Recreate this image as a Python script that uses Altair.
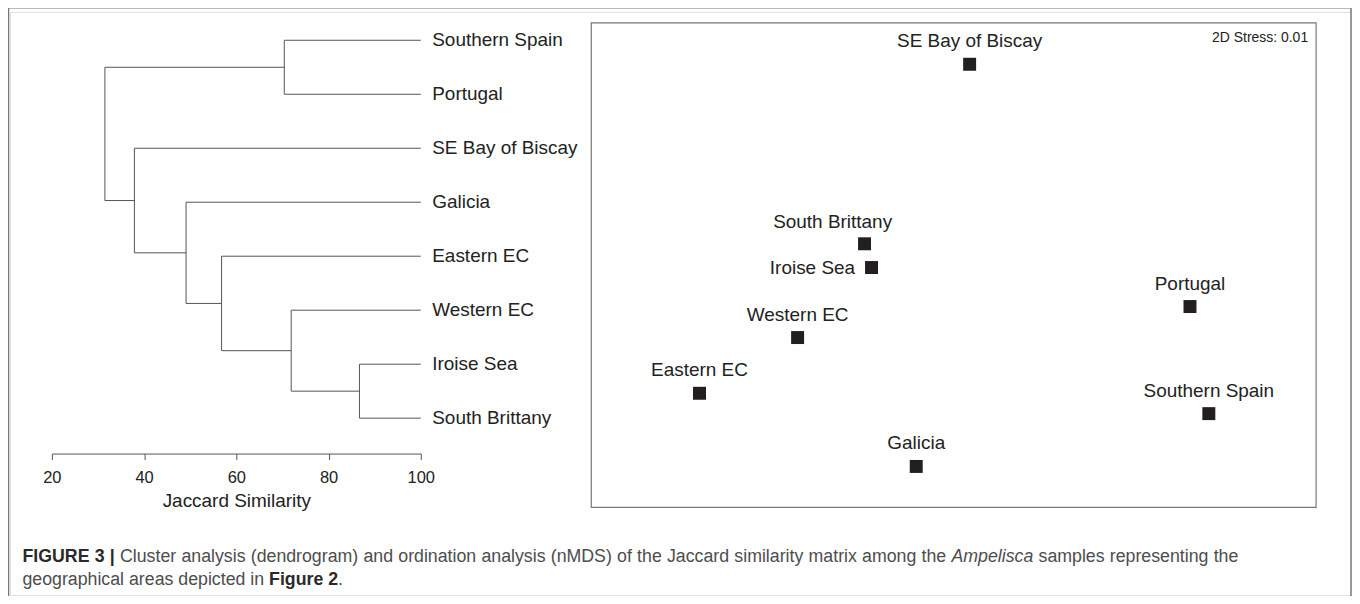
import altair as alt
import pandas as pd

# ---------------- data ----------------
leaves = ["Southern Spain", "Portugal", "SE Bay of Biscay", "Galicia",
          "Eastern EC", "Western EC", "Iroise Sea", "South Brittany"]
# merges (children may be leaves or earlier merges "m<i>") and similarity level
merge_left = ["Iroise Sea", "Southern Spain", "Western EC", "Eastern EC",
              "Galicia", "SE Bay of Biscay", "m1"]
merge_right = ["South Brittany", "Portugal", "m0", "m2", "m3", "m4", "m5"]
merge_sim = [86.7, 70.4, 71.9, 56.8, 49.1, 37.9, 31.5]
axis_ticks = [20, 40, 60, 80, 100]

sites = ["SE Bay of Biscay", "South Brittany", "Iroise Sea", "Portugal",
         "Western EC", "Eastern EC", "Southern Spain", "Galicia"]
mds1 = [0.066, -0.369, -0.340, 0.978, -0.646, -1.052, 1.056, -0.155]
mds2 = [0.829, 0.088, -0.010, -0.171, -0.299, -0.529, -0.613, -0.831]
stress_text = "2D Stress: 0.01"

cap1 = [("FIGURE 3 |", "bold", "normal"),
        ("Cluster analysis (dendrogram) and ordination analysis (nMDS) of the Jaccard similarity matrix among the", "normal", "normal"),
        ("Ampelisca", "normal", "italic"),
        ("samples representing the", "normal", "normal")]
cap2 = [("geographical areas depicted in", "normal", "normal"),
        ("Figure 2", "bold", "normal"),
        (".", "normal", "normal")]

# ---------------- layout helpers ----------------
W, H = 1346, 585
OX, OY = 10, 11
FONT = "Liberation Sans"
LAB_FS = 19


def px(x):
    return x - OX


def py(y):
    return y - OY


# ---------------- dendrogram geometry ----------------
pos = {name: (100.0, float(i)) for i, name in enumerate(leaves)}
segs = []
for i, (a, b, s) in enumerate(zip(merge_left, merge_right, merge_sim)):
    xa, ya = pos[a]
    xb, yb = pos[b]
    segs.append({"x": s, "x2": s, "y": ya, "y2": yb})
    segs.append({"x": s, "x2": xa, "y": ya, "y2": ya})
    segs.append({"x": s, "x2": xb, "y": yb, "y2": yb})
    pos["m%d" % i] = (s, (ya + yb) / 2)
seg_df = pd.DataFrame(segs)
leaf_df = pd.DataFrame({"name": leaves, "x": [100.0] * len(leaves),
                        "y": list(range(len(leaves)))})

dx_scale = alt.Scale(domain=[20, 100], range=[px(52), px(422)], nice=False, zero=False)
dy_scale = alt.Scale(domain=[0, 7], range=[py(39.5), py(418.5)], nice=False, zero=False)

axis_y_view = py(454)
dend_axis = alt.Axis(values=axis_ticks, orient="bottom", offset=axis_y_view - H,
                     grid=False, domainColor="#555", tickColor="#555", tickSize=6,
                     labelFontSize=16.5, labelFont=FONT, labelColor="#222",
                     labelPadding=10, labelFlush=False, format="d",
                     title="Jaccard Similarity", titleFontSize=19, titleFont=FONT,
                     titleFontWeight="normal", titleColor="#222", titlePadding=6)

dend_rules = alt.Chart(seg_df).mark_rule(color="#555", strokeWidth=1).encode(
    x=alt.X("x:Q", scale=dx_scale, axis=dend_axis, title="Jaccard Similarity"),
    x2="x2:Q",
    y=alt.Y("y:Q", scale=dy_scale, axis=None),
    y2="y2:Q",
)
dend_labels = alt.Chart(leaf_df).mark_text(
    align="left", baseline="middle", dx=11.5, fontSize=LAB_FS, font=FONT, color="#222"
).encode(
    x=alt.X("x:Q", scale=dx_scale, axis=dend_axis, title="Jaccard Similarity"),
    y=alt.Y("y:Q", scale=dy_scale, axis=None),
    text="name:N",
)
dendro = alt.layer(dend_rules, dend_labels)

# ---------------- nMDS ----------------
mds_df = pd.DataFrame({"site": sites, "m1": mds1, "m2": mds2})
sx = alt.Scale(domain=[-1.5, 1.5], range=[px(593), px(1320)], nice=False, zero=False)
sy = alt.Scale(domain=[-1, 1], range=[py(508), py(22)], nice=False, zero=False)
enc = dict(x=alt.X("m1:Q", scale=sx, axis=None), y=alt.Y("m2:Q", scale=sy, axis=None))

pts = alt.Chart(mds_df).mark_point(shape="square", filled=True, size=169,
                                   color="#231f20", opacity=1).encode(**enc)
above = ["SE Bay of Biscay", "Portugal", "Western EC", "Eastern EC",
         "Southern Spain", "Galicia"]
lab_above = alt.Chart(mds_df).transform_filter(
    alt.FieldOneOfPredicate(field="site", oneOf=above)
).mark_text(align="center", baseline="middle", dy=-23, fontSize=LAB_FS, font=FONT,
            color="#222").encode(text="site:N", **enc)
lab_sb = alt.Chart(mds_df).transform_filter(
    alt.datum.site == "South Brittany"
).mark_text(align="center", baseline="middle", dy=-22, dx=-32, fontSize=LAB_FS,
            font=FONT, color="#222").encode(text="site:N", **enc)
lab_is = alt.Chart(mds_df).transform_filter(
    alt.datum.site == "Iroise Sea"
).mark_text(align="right", baseline="middle", dx=-16.5, fontSize=LAB_FS, font=FONT,
            color="#222").encode(text="site:N", **enc)
mds = alt.layer(pts, lab_above, lab_sb, lab_is)

# ---------------- decorations ----------------
one = pd.DataFrame({"k": [0]})
box = alt.Chart(one).mark_rect(fillOpacity=0, stroke="#777", strokeWidth=1.2).encode(
    x=alt.value(px(593)), x2=alt.value(px(1320)), y=alt.value(py(22)), y2=alt.value(py(508)))
stress = alt.Chart(pd.DataFrame({"t": [stress_text]})).mark_text(
    align="right", baseline="middle", fontSize=14, font=FONT, color="#222"
).encode(text="t:N", x=alt.value(px(1312)), y=alt.value(py(37)))

frame_l = alt.Chart(one).mark_rule(color="#777", strokeWidth=1.5).encode(
    x=alt.value(px(8.5)), y=alt.value(py(7)), y2=alt.value(H + 10))
frame_r = alt.Chart(one).mark_rule(color="#777", strokeWidth=1.5).encode(
    x=alt.value(px(1355)), y=alt.value(py(7)), y2=alt.value(H + 10))
frame_t = alt.Chart(one).mark_rule(color="#777", strokeWidth=1.5).encode(
    x=alt.value(px(8.5)), x2=alt.value(px(1355)), y=alt.value(py(7)))

# ---------------- caption (line 1 justified, line 2 ragged) ----------------
HR = {" ": 278, "(": 333, ")": 333, ".": 278, "|": 260, "A": 667, "C": 722,
      "D": 722, "J": 500, "M": 833, "S": 667, "a": 556, "b": 556, "c": 500,
      "d": 556, "e": 556, "f": 278, "g": 556, "h": 556, "i": 222, "j": 222,
      "k": 500, "l": 222, "m": 833, "n": 556, "o": 556, "p": 556, "q": 556,
      "r": 333, "s": 500, "t": 278, "u": 556, "v": 500, "w": 722, "x": 500,
      "y": 500, "z": 500}
HB = {" ": 278, "|": 280, "F": 611, "I": 278, "G": 778, "U": 722, "R": 722,
      "E": 667, "2": 556, "3": 556, "i": 278, "g": 611, "u": 611, "r": 389,
      "e": 556}
CAP_FS = 17.8
CAP_LEFT, CAP_RIGHT = 22.5, 1242.0


def tw(s, bold):
    tab = HB if bold else HR
    return sum(tab.get(c, 556) for c in s) * CAP_FS / 1000.0


def layout(line, justify):
    words = []
    for j, (txt, wt, st) in enumerate(line):
        for k, w in enumerate(txt.split(" ")):
            glue = not (j > 0 and k == 0 and w == ".")
            words.append([w, wt, st, glue and len(words) > 0])
    nat = sum(tw(w[0], w[1] == "bold") for w in words)
    gaps = sum(1 for w in words if w[3])
    space = tw(" ", False)
    if justify and gaps:
        space = (CAP_RIGHT - CAP_LEFT - nat) / gaps
    out, xcur = [], CAP_LEFT
    for w, wt, st, g in words:
        if g:
            xcur += space
        out.append((w, wt, st, xcur))
        xcur += tw(w, wt == "bold")
    return out


caption_layers = []
for line, yy, just in ((cap1, 558, True), (cap2, 581, False)):
    for w, wt, st, xx in layout(line, just):
        caption_layers.append(
            alt.Chart(pd.DataFrame({"t": [w]})).mark_text(
                align="left", baseline="middle", fontSize=CAP_FS, font=FONT,
                fontWeight=wt, fontStyle=st,
                color="#2a2a2a" if wt == "bold" else "#4d4d4d"
            ).encode(text="t:N", x=alt.value(px(xx)), y=alt.value(py(yy)))
        )

chart = alt.layer(
    frame_l, frame_r, frame_t, box, dendro, mds, stress, *caption_layers
).resolve_scale(x="independent", y="independent").properties(
    width=W, height=H,
    padding={"left": 2, "top": 3, "right": 0, "bottom": 0},
    autosize=alt.AutoSizeParams(type="none"),
).configure_view(stroke=None).configure(background="white")

chart.save("out.html", embed_options={"renderer": "svg", "actions": False})
